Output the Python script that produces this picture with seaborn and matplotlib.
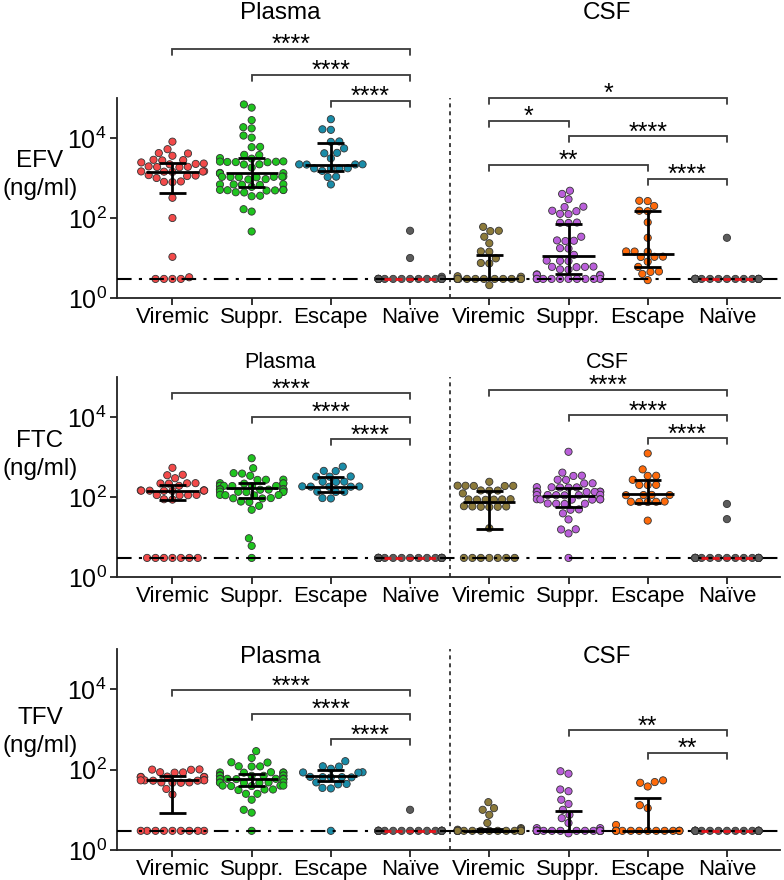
import numpy as np
import pandas as pd
import matplotlib
matplotlib.use("Agg")
import matplotlib.pyplot as plt
from matplotlib.ticker import NullLocator
import seaborn as sns

# ---------------- data (ng/ml) ----------------
LLOQ = 3.0
groups = ["Viremic", "Suppr.", "Escape", "Naïve"]
compartments = ["Plasma", "CSF"]
cats = [f"{c} {g}" for c in compartments for g in groups]
colors = ["#F24A4A", "#1FC41F", "#1A8CA8", "#5C5C5C",
          "#8C7A3A", "#BA5FDA", "#FF6A0A", "#5C5C5C"]

# EFV
efv_plasma_viremic = [8100, 5250, 4200, 4100, 3600, 2850, 2800, 2750, 2450, 2300, 2250, 2200,
                      1950, 1900, 1880, 1850, 1480, 1460, 1450, 1440, 1420, 1180, 1150, 1120,
                      1000, 820, 800, 790, 320, 100, 10.7, 3.3, 3, 3, 3, 3]
efv_plasma_suppr = [69000, 57500, 28000, 18600, 17400, 11500, 10200, 6000, 5900, 3800, 3750,
                    3150, 3050, 2600, 2570, 2550, 2520, 2500, 2480, 2200, 2180, 1820,
                    1340, 1320, 1310, 1300, 1090, 1080, 1070, 1070, 1060, 1050, 1040, 940, 920,
                    700, 690, 690, 680, 670, 600, 510, 505, 500, 495, 490, 485, 440, 435,
                    360, 350, 166, 145, 46]
efv_plasma_escape = [29500, 16500, 16000, 8200, 8000, 5500, 4250, 4150, 3100, 2200, 2190, 2180,
                     2170, 1750, 1740, 1730, 1720, 1510, 1080, 1060, 690]
efv_plasma_naive = [48, 10, 3.4, 3, 3, 3, 3, 3, 3, 3, 3, 3, 3, 3, 3, 3, 3, 3, 3, 3, 3]
efv_csf_viremic = [60, 48, 47, 34, 23.4, 14.6, 14.4, 9.8, 7.5, 7.3, 3.5, 3.4, 3, 3, 3, 3, 3,
                   3, 3, 3, 3, 3, 3, 3, 3, 2.1]
efv_csf_suppr = [480, 400, 295, 192, 188, 152, 148, 127, 125, 77, 76, 75, 34, 27.5, 27, 26.5,
                 17.6, 17.2, 12, 8.6, 8.5, 8.4, 6.1, 6, 6, 5.9, 5.2, 5.1, 3.9, 3.8, 3.8, 3.7,
                 3, 3, 3, 3, 3, 3, 3, 3, 3, 3]
efv_csf_escape = [270, 265, 200, 152, 148, 78, 32, 14.6, 14.5, 14.4, 10.8, 10.7, 10.6, 8.1, 6,
                  4.6, 4.5, 4, 2.8]
efv_csf_naive = [32, 3, 3, 3, 3, 3, 3, 3, 3, 3, 3, 3, 3, 3, 3, 3, 3, 3, 3]

# FTC
ftc_plasma_viremic = [537, 360, 350, 295, 222, 220, 218, 216, 190, 147, 146, 145, 145, 144, 144,
                      143, 142, 113, 112, 111, 110, 88, 86, 3, 3, 3, 3, 3, 3, 3]
ftc_plasma_suppr = [930, 525, 395, 385, 340, 272, 270, 268, 222, 220, 218, 216, 192, 191, 190,
                    189, 188, 187, 157, 156, 155, 155, 154, 154, 153, 152, 137, 136, 135, 134,
                    133, 113, 112, 111, 110, 94, 93, 92, 77, 75, 60, 48, 9.3, 6, 3]
ftc_plasma_escape = [575, 450, 445, 326, 324, 322, 242, 240, 238, 184, 183, 182, 181, 180,
                     136, 135, 134, 94, 92]
ftc_plasma_naive = [3, 3, 3, 3, 3, 3, 3, 3, 3, 3, 3, 3, 3, 3, 3, 3, 3, 3, 3, 3]
ftc_csf_viremic = [240, 192, 191, 190, 189, 188, 146, 145, 144, 123, 88, 87, 87, 86, 86, 85,
                   59, 58, 58, 57, 57, 56, 16.6, 3, 3, 3, 3, 3, 3, 3]
ftc_csf_suppr = [1350, 407, 342, 336, 270, 268, 220, 218, 176, 175, 174, 173, 172, 137, 136, 135,
                 135, 134, 134, 133, 113, 112, 112, 111, 111, 110, 88, 88, 87, 87, 86, 86,
                 69, 68, 68, 67, 49, 48, 39, 27.5, 15.6, 15.4, 12.3, 3]
ftc_csf_escape = [1230, 490, 340, 338, 269, 201, 200, 199, 113, 112, 112, 111, 77, 76, 76, 75,
                  75, 25.7]
ftc_csf_naive = [67, 28, 3, 3, 3, 3, 3, 3, 3, 3, 3, 3, 3, 3, 3, 3, 3, 3, 3, 3]

# TFV
tfv_plasma_viremic = [101, 100, 99, 86, 85, 84, 67, 66, 66, 65, 65, 55, 54, 54, 54, 53, 53,
                      48, 48, 47, 47, 33, 24, 3, 3, 3, 3, 3, 3, 3, 3, 3]
tfv_plasma_suppr = [288, 195, 152, 150, 121, 120, 119, 86, 85, 85, 84, 84, 72, 71, 71, 71, 70,
                    70, 70, 60, 59, 59, 59, 58, 58, 58, 58, 48, 48, 48, 47, 47, 47, 40, 40, 40,
                    39, 39, 32, 32, 31, 25, 25, 17.8, 10, 8.5, 3]
tfv_plasma_escape = [162, 121, 119, 105, 86, 85, 84, 66, 65, 65, 64, 64, 48, 44, 43, 35, 34, 3]
tfv_plasma_naive = [10, 3, 3, 3, 3, 3, 3, 3, 3, 3, 3, 3, 3, 3, 3, 3, 3, 3, 3, 3]
tfv_csf_viremic = [15.5, 11, 10, 7.5, 4.7, 3.5, 3.3, 3.2, 3, 3, 3, 3, 3, 3, 3, 3, 3, 3, 3, 3,
                   3, 3, 3, 3, 3]
tfv_csf_suppr = [91, 79, 32, 29, 17.8, 14, 10, 7.5, 6.2, 4.7, 3.5, 3.5, 3, 3, 3, 3, 3, 3, 3, 3,
                 3, 3, 3, 3, 3, 3, 3, 3, 3, 3, 3, 3, 2.6]
tfv_csf_escape = [54, 49, 47, 38, 13, 11, 4.2, 3, 3, 3, 3, 3, 3, 3, 3, 3, 3, 3, 3, 3]
tfv_csf_naive = [3, 3, 3, 3, 3, 3, 3, 3, 3, 3, 3, 3, 3, 3, 3, 3, 3, 3, 3, 3]

# median, Q1, Q3 per group
efv_median = [1450, 1300, 2100, 3, 3, 11, 12.5, 3]
efv_q1 = [430, 600, 1500, 3, 3, 4, 5.8, 3]
efv_q3 = [2400, 3100, 7600, 3, 12, 70, 150, 3]
ftc_median = [145, 165, 180, 3, 74, 106, 117, 3]
ftc_q1 = [85, 95, 135, 3, 16, 57, 72, 3]
ftc_q3 = [200, 220, 320, 3, 145, 165, 270, 3]
tfv_median = [56, 60, 68, 3, 3, 3, 3, 3]
tfv_q1 = [8.5, 40, 51, 3, 3, 3, 3, 3]
tfv_q3 = [71, 78, 98, 3, 3.3, 9.6, 19.6, 3]

# significance comparisons: (group i, group j, bracket height log10, label)
efv_sig = [(0, 3, 6.23, "****"), (1, 3, 5.58, "****"), (2, 3, 4.93, "****"),
           (4, 7, 5.01, "*"), (4, 5, 4.43, "*"), (5, 7, 4.05, "****"),
           (4, 6, 3.33, "**"), (6, 7, 2.98, "****")]
ftc_sig = [(0, 3, 4.59, "****"), (1, 3, 4.01, "****"), (2, 3, 3.44, "****"),
           (4, 7, 4.68, "****"), (5, 7, 4.05, "****"), (6, 7, 3.47, "****")]
tfv_sig = [(0, 3, 3.98, "****"), (1, 3, 3.39, "****"), (2, 3, 2.75, "****"),
           (5, 7, 2.98, "**"), (6, 7, 2.42, "**")]

panels = [
    ("EFV", [efv_plasma_viremic, efv_plasma_suppr, efv_plasma_escape, efv_plasma_naive,
             efv_csf_viremic, efv_csf_suppr, efv_csf_escape, efv_csf_naive],
     efv_median, efv_q1, efv_q3, efv_sig),
    ("FTC", [ftc_plasma_viremic, ftc_plasma_suppr, ftc_plasma_escape, ftc_plasma_naive,
             ftc_csf_viremic, ftc_csf_suppr, ftc_csf_escape, ftc_csf_naive],
     ftc_median, ftc_q1, ftc_q3, ftc_sig),
    ("TFV", [tfv_plasma_viremic, tfv_plasma_suppr, tfv_plasma_escape, tfv_plasma_naive,
             tfv_csf_viremic, tfv_csf_suppr, tfv_csf_escape, tfv_csf_naive],
     tfv_median, tfv_q1, tfv_q3, tfv_sig),
]

# ---------------- style ----------------
sns.set_theme(style="ticks")
plt.rcParams['font.family'] = ['Liberation Sans', 'DejaVu Sans']
plt.rcParams['text.color'] = 'black'
plt.rcParams['mathtext.fontset'] = 'custom'
plt.rcParams['mathtext.rm'] = 'Liberation Sans'
plt.rcParams['mathtext.it'] = 'Liberation Sans:italic'
plt.rcParams['mathtext.bf'] = 'Liberation Sans:bold'

W, H = 784, 880
fig = plt.figure(figsize=(W / 100, H / 100), dpi=100)

# axes boxes in pixels: (top, bottom)
boxes = [(98, 298), (377, 577), (649, 850)]
ax_left, ax_right = 117, 780
ylabel_y = [175, 455, 732]
title_y = [13, 362, 657]
title_size = [17.5, 15.5, 17.5]

palette = dict(zip(cats, colors))

for k, (drug, series, med, q1, q3, sig) in enumerate(panels):
    top, bot = boxes[k]
    ax = fig.add_axes([ax_left / W, 1 - bot / H, (ax_right - ax_left) / W, (bot - top) / H])
    df = pd.DataFrame({
        "cat": np.concatenate([[c] * len(v) for c, v in zip(cats, series)]),
        "val": np.concatenate([np.asarray(v, float) for v in series]),
    })
    ax.set_yscale("log")
    ax.set_ylim(1, 1e5)
    ax.set_xlim(-0.7, 7.67)
    sns.swarmplot(data=df, x="cat", y="val", hue="cat", order=cats, hue_order=cats,
                  palette=palette, size=5.2, linewidth=0.6, edgecolor="#333333",
                  legend=False, ax=ax, warn_thresh=1.0, zorder=2)
    ax.set_ylim(1, 1e5)
    ax.set_xlim(-0.7, 7.67)

    # median + IQR
    for i in range(8):
        if i in (3, 7):
            ax.hlines(med[i], i - 0.33, i + 0.33, color="#E8141B", lw=2.0,
                      linestyles=(0, (2.5, 1.5)), zorder=5)
            continue
        ax.hlines(med[i], i - 0.33, i + 0.33, color="black", lw=2.0, zorder=5)
        ax.vlines(i, q1[i], q3[i], color="black", lw=2.0, zorder=5)
        ax.hlines([q1[i], q3[i]], i - 0.17, i + 0.17, color="black", lw=2.0, zorder=5)

    # LLOQ and separator
    ax.axhline(LLOQ, color="black", lw=1.5, ls=(0, (7, 3.5, 1.5, 3.5)), zorder=3)
    ax.axvline(3.5, color="#333333", lw=1.3, ls=(0, (2.2, 2.2)), zorder=1)

    # significance brackets
    for (i, j, ylog, lab) in sig:
        y = 10 ** ylog
        yt = 10 ** (ylog - 6 / 40)
        ax.plot([i, i, j, j], [yt, y, y, yt], color="#3A3A3A", lw=1.3, clip_on=False,
                solid_joinstyle="miter", zorder=6)
        ax.annotate(lab, xy=((i + j) / 2, y), xytext=(0, 2.5), textcoords="offset points",
                    ha="center", va="center", fontsize=18, color="black",
                    annotation_clip=False)

    # axes styling
    for s in ("top", "right"):
        ax.spines[s].set_visible(False)
    for s in ("left", "bottom"):
        ax.spines[s].set_color("#222222")
        ax.spines[s].set_linewidth(1.3)
    ax.set_yticks([1, 100, 10000])
    ax.set_yticklabels([r"$10^{0}$", r"$10^{2}$", r"$10^{4}$"])
    ax.yaxis.set_minor_locator(NullLocator())
    ax.set_xticks(range(8))
    ax.set_xticklabels(groups * 2)
    ax.tick_params(axis="both", direction="out", length=5, width=1.3, colors="#222222",
                   labelcolor="black", labelsize=16, pad=1.5)
    ax.tick_params(axis="y", labelsize=18, pad=2.5)
    ax.set_xlabel("")
    ax.set_ylabel("")

    fig.text(40 / W, 1 - ylabel_y[k] / H, f"{drug}\n(ng/ml)", ha="center", va="center",
             fontsize=17.5, linespacing=1.3, color="black")
    fig.text(280 / W, 1 - title_y[k] / H, "Plasma", ha="center", va="center",
             fontsize=title_size[k], color="black")
    fig.text(607 / W, 1 - title_y[k] / H, "CSF", ha="center", va="center",
             fontsize=title_size[k], color="black")

fig.savefig("out.png", dpi=100)
